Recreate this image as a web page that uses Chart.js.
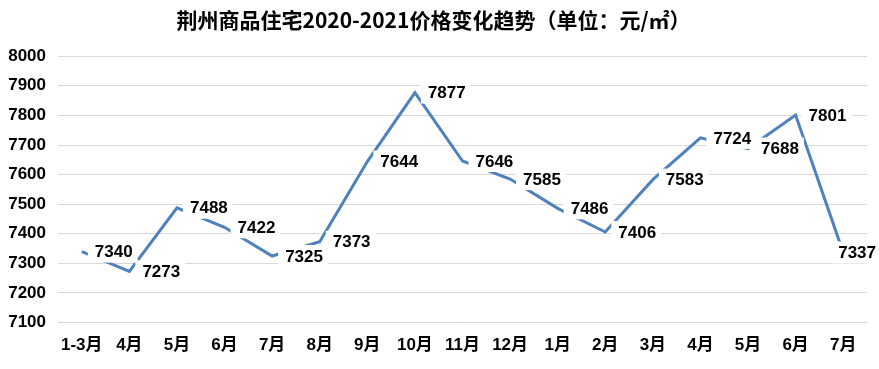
<!DOCTYPE html>
<html lang="zh">
<head>
<meta charset="UTF-8">
<title>荆州商品住宅价格变化趋势</title>
<script src="https://cdn.jsdelivr.net/npm/chart.js"></script>
<style>
  html, body { margin: 0; padding: 0; background: #fff; }
  #wrap { width: 879px; height: 369px; }
</style>
</head>
<body>
<div id="wrap"><canvas id="priceChart"></canvas></div>
<script>
// 数据
const months = ['1-3月', '4月', '5月', '6月', '7月', '8月', '9月', '10月', '11月', '12月',
                '1月', '2月', '3月', '4月', '5月', '6月', '7月'];
const prices = [7340, 7273, 7488, 7422, 7325, 7373, 7644, 7877, 7646, 7585,
                7486, 7406, 7583, 7724, 7688, 7801, 7337];
const yTicks = [7100, 7200, 7300, 7400, 7500, 7600, 7700, 7800, 7900, 8000];

const labelFont = 'bold 17px "Liberation Sans", "Noto Sans CJK SC", sans-serif';

// 数据标签：白底，放在点的右侧
const valueLabels = {
    id: 'valueLabels',
    afterDatasetsDraw(chart) {
        const ctx = chart.ctx;
        const meta = chart.getDatasetMeta(0);
        ctx.save();
        ctx.font = labelFont;
        ctx.textBaseline = 'middle';
        meta.data.forEach((pt, i) => {
            const txt = String(prices[i]);
            const w = ctx.measureText(txt).width;
            let tx = pt.x + 13;
            if (tx + w > chart.width - 3) tx = chart.width - 3 - w;
            ctx.fillStyle = '#fff';
            ctx.fillRect(tx - 7, pt.y - 11, w + 12, 22);
            ctx.fillStyle = '#000';
            ctx.fillText(txt, tx, pt.y + 1);
        });
        ctx.restore();
    }
};

new Chart(document.getElementById('priceChart'), {
    type: 'line',
    data: {
        labels: months,
        datasets: [{
            data: prices,
            borderColor: '#4F81BD',
            borderWidth: 3,
            pointRadius: 0,
            tension: 0,
            fill: false
        }]
    },
    options: {
        responsive: true,
        maintainAspectRatio: false,
        animation: false,
        layout: { padding: { left: 0, right: 12, top: 0, bottom: 0 } },
        plugins: {
            legend: { display: false },
            tooltip: { enabled: false },
            title: {
                display: true,
                text: '荆州商品住宅2020-2021价格变化趋势（单位：元/㎡）',
                color: '#000',
                font: { family: '"Noto Sans CJK SC", sans-serif', size: 21, weight: 'bold', lineHeight: 1.2 },
                padding: { top: 7, bottom: 24 }
            }
        },
        scales: {
            x: {
                offset: true,
                grid: { display: false, drawTicks: false },
                border: { display: false },
                ticks: {
                    color: '#000',
                    font: { family: '"Liberation Sans", "Noto Sans CJK SC", sans-serif', size: 17, weight: 'bold' },
                    padding: 13,
                    maxRotation: 0,
                    autoSkip: false
                }
            },
            y: {
                min: 7100,
                max: 8000,
                afterFit(scale) { scale.width = 58; },
                afterBuildTicks(scale) { scale.ticks = yTicks.map(v => ({ value: v })); },
                grid: { color: '#D9D9D9', lineWidth: 1, drawTicks: false },
                border: { display: false },
                ticks: {
                    color: '#000',
                    font: { family: '"Liberation Sans", sans-serif', size: 17, weight: 'bold' },
                    padding: 12,
                    callback: v => String(v)
                }
            }
        }
    },
    plugins: [valueLabels]
});
</script>
</body>
</html>
